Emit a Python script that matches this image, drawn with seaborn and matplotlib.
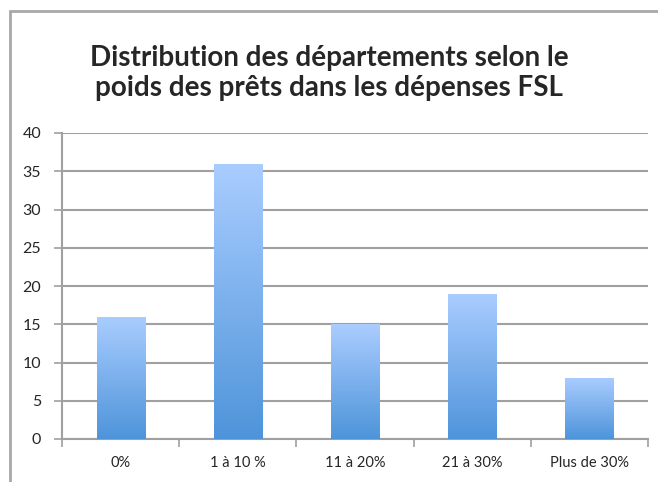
import numpy as np
import pandas as pd
import matplotlib.pyplot as plt
import matplotlib.patches as mpatches
from matplotlib.colors import LinearSegmentedColormap
import seaborn as sns

# data
categories = ['0%', '1 à 10 %', '11 à 20%', '21 à 30%', 'Plus de 30%']
counts = [16, 36, 15, 19, 8]
y_ticks = [0, 5, 10, 15, 20, 25, 30, 35, 40]

title = 'Distribution des départements selon le\npoids des prêts dans les dépenses FSL'

sns.set_style('white')
plt.rcParams['font.family'] = ['Lato', 'DejaVu Sans']

df = pd.DataFrame({'categorie': categories, 'nombre': counts})

fig = plt.figure(figsize=(6.58, 4.82), dpi=100)
ax = fig.add_axes([62 / 658, 1 - 439 / 482, (648 - 62) / 658, (439 - 133) / 482])

sns.barplot(data=df, x='categorie', y='nombre', color='#7fb0ec', width=0.41,
            ax=ax, zorder=3, saturation=1)

# vertical gradient for each bar, light on top, darker at the base
cmap = LinearSegmentedColormap.from_list('excel_blue', ['#4e94da', '#aacdff'])
grad = np.linspace(0, 1, 256).reshape(-1, 1)
for bar in ax.patches:
    x0, y0 = bar.get_x(), bar.get_y()
    w, h = bar.get_width(), bar.get_height()
    bar.set_facecolor('none')
    bar.set_edgecolor('none')
    im = ax.imshow(grad, cmap=cmap, origin='lower', aspect='auto',
                   extent=[x0, x0 + w, y0, y0 + h], zorder=3)
    im.set_clip_path(bar)

ax.set_xlim(-0.5, len(categories) - 0.5)
ax.set_ylim(0, 40)
ax.set_yticks(y_ticks)
ax.yaxis.grid(True, color='#a0a0a0', linewidth=1.5, zorder=0)
ax.set_axisbelow(True)

ax.set_xlabel('')
ax.set_ylabel('')
ax.tick_params(axis='y', length=6, width=1.2, color='#a0a0a0', direction='out',
               labelsize=11.5, pad=9, left=True)
ax.tick_params(axis='x', length=0, labelsize=10.5, pad=12)
ax.set_xticks(np.arange(-0.5, len(categories)), minor=True)
ax.tick_params(axis='x', which='minor', length=6, width=1.2, color='#a0a0a0',
               direction='out', bottom=True)

for side in ['top', 'right']:
    ax.spines[side].set_visible(False)
for side in ['left', 'bottom']:
    ax.spines[side].set_color('#a0a0a0')
    ax.spines[side].set_linewidth(1.5)

fig.text(0.5, 1 - 73 / 482, title, ha='center', va='center', fontsize=20,
         fontweight='bold', linespacing=1.15)

# outer chart frame
frame = mpatches.Rectangle((10 / 658, -0.1), 1.2, 1 - 11 / 482 + 0.1,
                           transform=fig.transFigure, fill=False,
                           edgecolor='#a8a8a8', linewidth=2, zorder=10)
fig.patches.append(frame)

fig.savefig('out.png', dpi=100)
